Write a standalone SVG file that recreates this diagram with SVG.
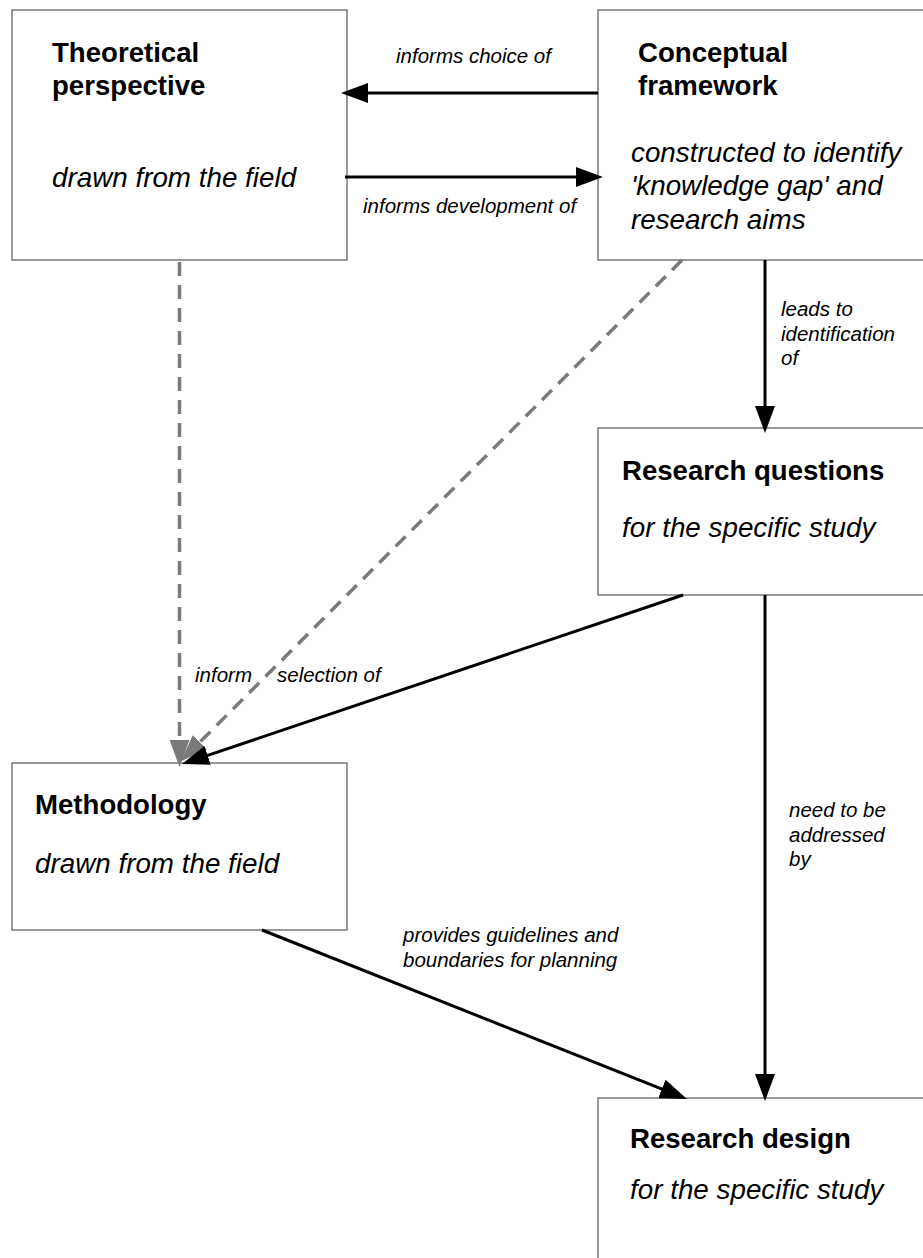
<svg xmlns="http://www.w3.org/2000/svg" width="923" height="1258" viewBox="0 0 923 1258">
<style>
.box{fill:#fff;stroke:#555;stroke-width:1.2}
.b{font-family:"Liberation Sans",Arial,Helvetica,sans-serif;font-weight:bold;font-size:27.6px;fill:#000}
.i{font-family:"Liberation Sans",Arial,Helvetica,sans-serif;font-style:italic;font-size:27.8px;fill:#000}
.l{font-family:"Liberation Sans",Arial,Helvetica,sans-serif;font-style:italic;font-size:20.5px;fill:#000}
.arr{stroke:#000;stroke-width:3;fill:none;marker-end:url(#ah)}
.dash{stroke:#7a7a7a;stroke-width:3.5;fill:none;stroke-dasharray:14 9;marker-end:url(#ahg)}
</style>
<defs>
<marker id="ah" markerUnits="userSpaceOnUse" markerWidth="27" markerHeight="20" refX="7" refY="10" orient="auto" viewBox="0 0 27 20">
<path d="M0,0 L27,10 L0,20 z" fill="#000"/>
</marker>
<marker id="ahg" markerUnits="userSpaceOnUse" markerWidth="27" markerHeight="20" refX="7" refY="10" orient="auto" viewBox="0 0 27 20">
<path d="M0,0 L27,10 L0,20 z" fill="#7a7a7a"/>
</marker>
</defs>
<rect width="923" height="1258" fill="#fff"/>
<g id="theoretical">
<rect class="box" x="12" y="10" width="335" height="250"/>
<text class="b" x="52" y="62">Theoretical</text>
<text class="b" x="52" y="95">perspective</text>
<text class="i" x="52" y="187">drawn from the field</text>
</g>
<g id="conceptual">
<rect class="box" x="598" y="10" width="340" height="250"/>
<text class="b" x="638" y="62">Conceptual</text>
<text class="b" x="638" y="95">framework</text>
<text class="i" x="631" y="162">constructed to identify</text>
<text class="i" x="631" y="195">'knowledge gap' and</text>
<text class="i" x="631" y="229">research aims</text>
</g>
<g id="questions">
<rect class="box" x="598" y="428" width="340" height="167"/>
<text class="b" x="622" y="480">Research questions</text>
<text class="i" x="622" y="537">for the specific study</text>
</g>
<g id="methodology">
<rect class="box" x="12" y="763" width="335" height="167"/>
<text class="b" x="35" y="814">Methodology</text>
<text class="i" x="35" y="873">drawn from the field</text>
</g>
<g id="design">
<rect class="box" x="598" y="1098" width="340" height="180"/>
<text class="b" x="630" y="1148">Research design</text>
<text class="i" x="630" y="1199">for the specific study</text>
</g>
<g id="connectors">
<line class="dash" x1="179.5" y1="262" x2="179.5" y2="747"/>
<line class="dash" x1="682" y1="260" x2="195" y2="747"/>
<line class="arr" x1="598" y1="93" x2="361" y2="93"/>
<line class="arr" x1="345" y1="177" x2="583" y2="177"/>
<line class="arr" x1="765" y1="260" x2="765" y2="413"/>
<line class="arr" x1="765" y1="595" x2="765" y2="1081"/>
<line class="arr" x1="262" y1="930" x2="668.4" y2="1091.6"/>
<line class="arr" x1="683" y1="595" x2="201" y2="757.6"/>
<text class="l" x="396" y="63">informs choice of</text>
<text class="l" x="363" y="213">informs development of</text>
<text class="l" x="781" y="316">leads to</text>
<text class="l" x="781" y="341">identification</text>
<text class="l" x="781" y="365">of</text>
<text class="l" x="195" y="682">inform</text>
<text class="l" x="277" y="682">selection of</text>
<text class="l" x="789" y="817">need to be</text>
<text class="l" x="789" y="842">addressed</text>
<text class="l" x="789" y="866">by</text>
<text class="l" x="403" y="942">provides guidelines and</text>
<text class="l" x="403" y="967">boundaries for planning</text>
</g>
</svg>
